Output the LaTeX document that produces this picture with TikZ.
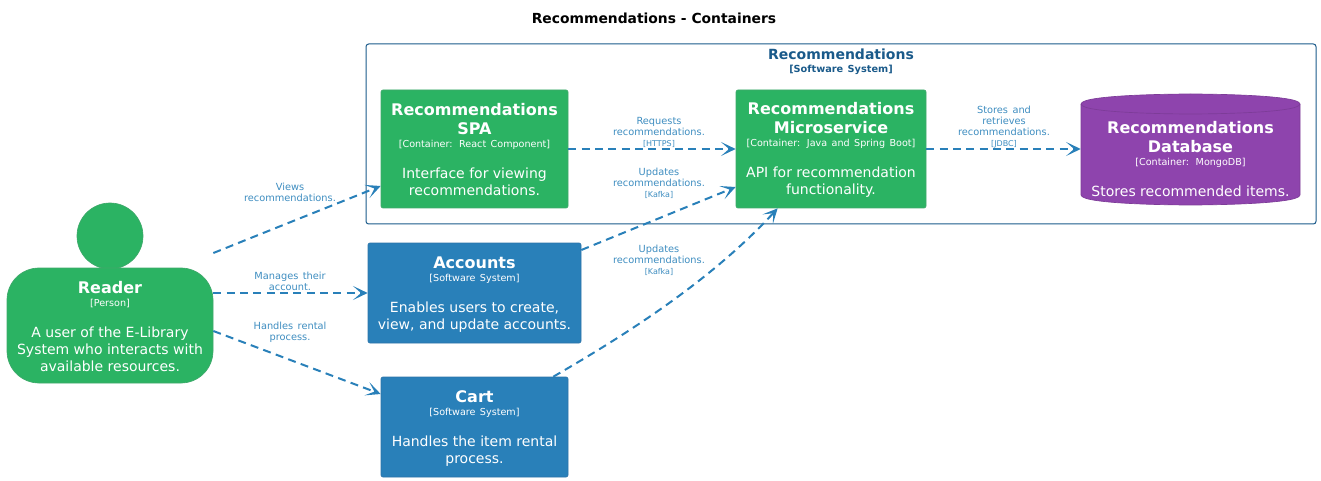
\documentclass[tikz,border=0pt]{standalone}
\usepackage{fontspec}
\setmainfont{DejaVu Sans}
\usetikzlibrary{arrows.meta}
\definecolor{cgreen}{HTML}{2BB363}
\definecolor{cgreenb}{HTML}{3FA96B}
\definecolor{cblue}{HTML}{2980B9}
\definecolor{cblueb}{HTML}{2D74A8}
\definecolor{cpurple}{HTML}{8E44AD}
\definecolor{cpurpleb}{HTML}{7D3C98}
\definecolor{cbound}{HTML}{1A5A8A}
\newcommand\nmtxt[1]{{\fontsize{12}{14.25}\selectfont\bfseries #1\par}}
\newcommand\tctxt[1]{{\fontsize{7.2}{9.75}\selectfont #1\par}\vspace{10.5pt}}
\newcommand\dstxt[1]{{\fontsize{10.5}{12.75}\selectfont #1\par}}
\newcommand\lbl[2]{{\fontsize{7.35}{8.25}\selectfont #1\par}\ifx&#2&\else{\fontsize{6}{8.25}\selectfont #2\par}\fi}
\tikzset{
  x=0.75pt,y=-0.75pt,
  card/.style n args={3}{rectangle,rounded corners=1.5pt,inner sep=0pt,align=center,text=white,
     text width=#1,minimum height=#2,fill=#3},
  greencard/.style 2 args={card={#1}{#2}{cgreen},draw=cgreenb,line width=0.5pt},
  bluecard/.style 2 args={card={#1}{#2}{cblue},draw=cblueb,line width=0.5pt},
  edgelabel/.style={inner sep=0pt,align=center,text width=90pt,text=cblue!90!white},
  rel/.style={draw=cblue,line width=1.5pt,dash pattern=on 6pt off 4pt,
     -{Stealth[length=11pt,width=10.5pt,inset=6pt]}},
}
\begin{document}
\begin{tikzpicture}
\useasboundingbox (0,0) rectangle (1321,481);
\node[inner sep=0pt,font=\fontsize{10.4}{12}\selectfont\bfseries] (title) at (654,18) {Recommendations - Containers};

\node[rectangle,draw=cbound,line width=0.75pt,rounded corners=2pt,minimum width=712.5pt,minimum height=135pt,inner sep=0pt] (boundary) at (841,134) {};
\node[inner sep=0pt,align=center,text width=200pt,text=cbound] (boundarylabel) at (841,61.5)
  {{\fontsize{10.5}{12.75}\selectfont\bfseries Recommendations\par}{\fontsize{7.3}{10}\selectfont\bfseries [Software System]\par}};

\node[circle,fill=cgreen,draw=cgreenb,line width=0.5pt,minimum size=49.5pt,inner sep=0pt] (readerhead) at (110,236) {};
\node[card={154.5pt}{86.25pt}{cgreen},draw=cgreenb,line width=0.5pt,rounded corners=24pt] (reader) at (110,325.5)
  {\vskip-3.75pt\nmtxt{Reader}\tctxt{[Person]}\dstxt{A user of the E-Library\\System who interacts with\\available resources.}};

\node[greencard={140.25pt}{88.5pt}] (spa) at (474.5,149)
  {\vskip-3.75pt\nmtxt{Recommendations\\SPA}\tctxt{[Container: React Component]}\dstxt{Interface for viewing\\recommendations.}};
\node[greencard={142.5pt}{88.5pt}] (micro) at (831,149)
  {\vskip-3.75pt\nmtxt{Recommendations\\Microservice}\tctxt{[Container: Java and Spring Boot]}\dstxt{API for recommendation\\functionality.}};

\path[fill=cpurple,draw=cpurpleb,line width=0.5pt]
  (1081,104) .. controls (1081,94) and (1190.5,94) .. (1190.5,94)
  .. controls (1190.5,94) and (1300,94) .. (1300,104)
  -- (1300,195) .. controls (1300,205) and (1190.5,205) .. (1190.5,205)
  .. controls (1190.5,205) and (1081,205) .. (1081,195) -- cycle;
\path[draw=cpurpleb,line width=0.5pt]
  (1081,104) .. controls (1081,114) and (1190.5,114) .. (1190.5,114)
  .. controls (1190.5,114) and (1300,114) .. (1300,104);
\node[card={164.25pt}{68.25pt}{none}] (db) at (1190.5,159.5)
  {\vskip-5.25pt\nmtxt{Recommendations\\Database}\tctxt{[Container: MongoDB]}\dstxt{Stores recommended items.}};

\node[bluecard={159.75pt}{75pt}] (accounts) at (474.5,293)
  {\vskip-3.75pt\nmtxt{Accounts}\tctxt{[Software System]}\dstxt{Enables users to create,\\view, and update accounts.}};
\node[bluecard={140.25pt}{75pt}] (cart) at (474.5,427)
  {\vskip-3.75pt\nmtxt{Cart}\tctxt{[Software System]}\dstxt{Handles the item rental\\process.}};

\node[edgelabel] (lviews) at (290,192) {\lbl{Views\\recommendations.}{}};
\node[edgelabel] (lmanages) at (290,281) {\lbl{Manages their\\account.}{}};
\node[edgelabel] (lhandles) at (290,332) {\lbl{Handles rental\\process.}{}};
\node[edgelabel] (lrequests) at (659,132) {\lbl{Requests\\recommendations.}{[HTTPS]}};
\node[edgelabel] (lupdatesa) at (659,183) {\lbl{Updates\\recommendations.}{[Kafka]}};
\node[edgelabel] (lupdatesb) at (659,260) {\lbl{Updates\\recommendations.}{[Kafka]}};
\node[edgelabel] (lstores) at (1004,127) {\lbl{Stores and\\retrieves\\recommendations.}{[JDBC]}};

\draw[rel] ([yshift=54.375pt]reader.east) -- ([yshift=-27.75pt]spa.west);
\draw[rel] ([yshift=24.375pt]reader.east) -- (accounts.west);
\draw[rel] ([yshift=-4.125pt]reader.east) -- ([yshift=24.75pt]cart.west);
\draw[rel] (spa.east) -- (micro.west);
\draw[rel] ([yshift=32.25pt]accounts.east) -- ([yshift=-28.5pt]micro.west);
\draw[rel] (micro.east) -- ([yshift=7.875pt]db.west);
\draw[rel] ([xshift=-11.25pt]cart.north east) .. controls (620,338) and (709,283) .. ([xshift=31.5pt]micro.south west);
\end{tikzpicture}
\end{document}
